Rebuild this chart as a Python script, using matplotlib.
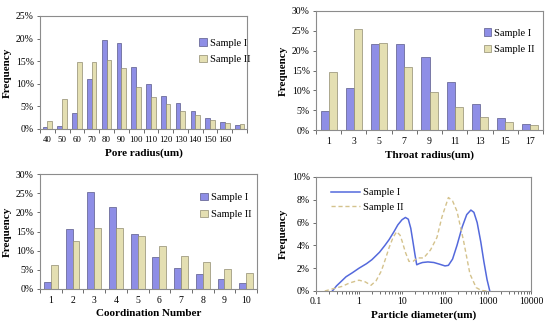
import matplotlib
matplotlib.use("Agg")
import matplotlib.pyplot as plt
import numpy as np
from matplotlib.ticker import PercentFormatter, FixedLocator, LogLocator, NullFormatter, FixedFormatter

plt.rcParams['font.family'] = ['Liberation Serif', 'DejaVu Serif']

# ---- data ----
pore_labels = ['40', '50', '60', '70', '80', '90', '100', '110', '120', '130', '140', '150', '160', '']
pore_s1 = [0.4, 0.7, 3.5, 11.1, 19.6, 19.1, 13.8, 9.9, 7.3, 5.8, 4.0, 2.4, 1.6, 0.9]
pore_s2 = [1.8, 6.7, 14.8, 14.8, 15.2, 13.4, 9.2, 7.0, 5.5, 4.0, 3.1, 2.1, 1.4, 1.1]

throat_labels = ['1', '3', '5', '7', '9', '11', '13', '15', '17']
throat_s1 = [4.7, 10.7, 21.7, 21.7, 18.3, 12.1, 6.5, 3.1, 1.5]
throat_s2 = [14.5, 25.4, 22.0, 16.0, 9.7, 5.7, 3.4, 2.1, 1.3]

coord_labels = ['1', '2', '3', '4', '5', '6', '7', '8', '9', '10']
coord_s1 = [1.9, 15.6, 25.3, 21.3, 14.4, 8.4, 5.5, 3.8, 2.5, 1.6]
coord_s2 = [6.2, 12.5, 15.8, 16.0, 13.8, 11.2, 8.5, 7.0, 5.3, 4.2]

psd1_x = [0.24, 0.3, 0.4, 0.5, 0.7, 1.0, 1.5, 2.0, 3.0, 4.0, 5.0, 6.5, 8.0, 10, 12, 14, 16, 18, 20, 22,
          25, 30, 40, 55, 75, 100, 120, 150, 190, 250, 320, 400, 470, 560, 680, 800, 950, 1100]
psd1_y = [0.0, 0.45, 0.9, 1.25, 1.6, 2.0, 2.4, 2.75, 3.4, 4.0, 4.5, 5.2, 5.8, 6.25, 6.45, 6.3, 5.5, 4.3, 3.2, 2.3,
          2.4, 2.5, 2.55, 2.5, 2.35, 2.2, 2.25, 2.8, 4.0, 5.6, 6.7, 7.1, 6.9, 6.0, 4.3, 2.6, 1.0, 0.0]
psd2_x = [0.16, 0.25, 0.4, 0.6, 1.0, 1.4, 1.9, 2.5, 3.3, 4.2, 5.0, 6.2, 7.5, 9.0, 10, 12, 14.5, 18, 23, 32,
          46, 65, 85, 120, 150, 190, 270, 380, 530, 700, 930]
psd2_y = [0.0, 0.2, 0.4, 0.7, 0.95, 0.8, 0.5, 0.9, 1.75, 2.9, 3.8, 4.7, 5.2, 4.9, 4.4, 3.4, 2.6, 2.6, 2.9, 2.9,
          3.6, 4.7, 6.5, 8.2, 7.9, 7.0, 4.4, 1.5, 0.3, 0.05, 0.0]

c1_face, c1_edge = '#8e8ee6', '#5a5a88'
c2_face, c2_edge = '#e4dfb2', '#908c70'
spine_c = '#8c8c8c'

fig = plt.figure(figsize=(5.5, 3.23), dpi=100)
W, H = 550.0, 323.0

def mkax(l, r, t, b):
    return fig.add_axes([l / W, 1 - b / H, (r - l) / W, (b - t) / H])

def style(ax):
    for s in ax.spines.values():
        s.set_color(spine_c)
        s.set_linewidth(0.8)
    ax.tick_params(axis='both', which='both', direction='out', color='#555555', labelsize=7, length=2.5, width=0.6, pad=2)

def bar_panel(ax, labels, s1, s2, ymax, xlabel, leg_xy, xlab_size=7):
    n = len(labels)
    x = np.arange(n)
    w = 0.32
    ax.bar(x - w / 2, s1, w, color=c1_face, edgecolor=c1_edge, linewidth=0.5, label='Sample I')
    ax.bar(x + w / 2, s2, w, color=c2_face, edgecolor=c2_edge, linewidth=0.5, label='Sample II')
    ax.set_xlim(-0.5, n - 0.5)
    ax.set_ylim(0, ymax)
    ax.yaxis.set_major_locator(FixedLocator(np.arange(0, ymax + 0.1, 5)))
    ax.yaxis.set_major_formatter(PercentFormatter(decimals=0))
    ax.set_xticks(np.arange(-0.5, n, 1.0))
    ax.set_xticklabels([])
    ax.set_xticks(x, minor=True)
    ax.set_xticklabels(labels, minor=True)
    style(ax)
    ax.tick_params(axis='x', which='minor', length=0, pad=5, labelsize=xlab_size)
    ax.tick_params(axis='x', which='major', length=3)
    ax.set_xlabel(xlabel, fontsize=8, fontweight='bold', labelpad=3)
    ax.set_ylabel('Frequency', fontsize=8, fontweight='bold', labelpad=3)
    ax.legend(loc='upper left', bbox_to_anchor=leg_xy, frameon=False, fontsize=7.5,
              handlelength=0.7, handleheight=0.7, handletextpad=0.3, labelspacing=0.7, borderaxespad=0)

ax1 = mkax(40, 247, 16, 129)
bar_panel(ax1, pore_labels, pore_s1, pore_s2, 25, 'Pore radius(um)', (0.75, 0.84), xlab_size=6.3)

ax2 = mkax(316, 543, 11, 130)
bar_panel(ax2, throat_labels, throat_s1, throat_s2, 30, 'Throat radius(um)', (0.72, 0.89))

ax3 = mkax(40, 257, 174, 289)
bar_panel(ax3, coord_labels, coord_s1, coord_s2, 30, 'Coordination Number', (0.72, 0.87))

ax4 = mkax(316, 531, 177, 291)
ax4.plot(psd1_x, psd1_y, color='#5469dc', lw=1.1, label='Sample I')
ax4.plot(psd2_x, psd2_y, color='#d4c28c', lw=1.0, ls=(0, (3, 2)), label='Sample II')
ax4.set_xscale('log')
ax4.set_xlim(0.1, 10000)
ax4.set_ylim(0, 10)
ax4.xaxis.set_major_locator(FixedLocator([0.1, 1, 10, 100, 1000, 10000]))
ax4.xaxis.set_major_formatter(FixedFormatter(['0.1', '1', '10', '100', '1000', '10000']))
ax4.xaxis.set_minor_locator(LogLocator(base=10, subs=np.arange(2, 10), numticks=20))
ax4.xaxis.set_minor_formatter(NullFormatter())
ax4.yaxis.set_major_locator(FixedLocator([0, 2, 4, 6, 8, 10]))
ax4.yaxis.set_major_formatter(PercentFormatter(decimals=0))
style(ax4)
ax4.tick_params(axis='x', which='minor', length=1.8)
ax4.set_xlabel('Particle diameter(um)', fontsize=8, fontweight='bold', labelpad=3)
ax4.set_ylabel('Frequency', fontsize=8, fontweight='bold', labelpad=3)
ax4.legend(loc='upper left', bbox_to_anchor=(0.05, 0.94), frameon=False, fontsize=7.5,
           handlelength=2.8, handletextpad=0.3, labelspacing=0.5, borderaxespad=0)

fig.savefig('out.png', dpi=100)
